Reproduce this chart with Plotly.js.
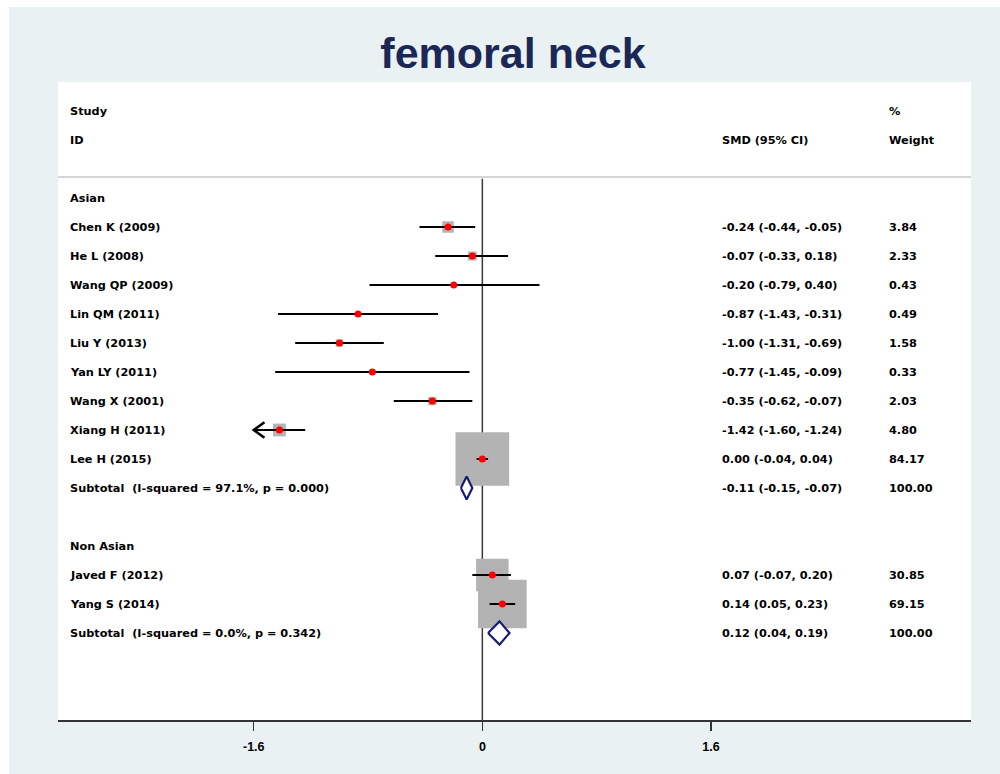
<!DOCTYPE html>
<html>
<head>
<meta charset="utf-8">
<script src="https://cdn.plot.ly/plotly-3.0.1.min.js"></script>
<style>
  html, body { margin: 0; padding: 0; background: #ffffff; }
  #chart { position: absolute; left: 9px; top: 7px; width: 991px; height: 767px; }
</style>
</head>
<body>
<div id="chart"></div>
<script>
// ---- data ----
var groups = ["Asian", "Non Asian"];
var studies = ["Chen K (2009)", "He L (2008)", "Wang QP (2009)", "Lin QM (2011)", "Liu Y (2013)",
               "Yan LY (2011)", "Wang X (2001)", "Xiang H (2011)", "Lee H (2015)",
               "Javed F (2012)", "Yang S (2014)"];
var studyGroup = ["Asian", "Asian", "Asian", "Asian", "Asian", "Asian", "Asian", "Asian", "Asian",
                  "Non Asian", "Non Asian"];
var smd    = [-0.24, -0.07, -0.20, -0.87, -1.00, -0.77, -0.35, -1.42, 0.00, 0.07, 0.14];
var ciLow  = [-0.44, -0.33, -0.79, -1.43, -1.31, -1.45, -0.62, -1.60, -0.04, -0.07, 0.05];
var ciHigh = [-0.05, 0.18, 0.40, -0.31, -0.69, -0.09, -0.07, -1.24, 0.04, 0.20, 0.23];
var weight = [3.84, 2.33, 0.43, 0.49, 1.58, 0.33, 2.03, 4.80, 84.17, 30.85, 69.15];

var subLabel  = ["Subtotal\u00a0\u00a0(I-squared = 97.1%, p = 0.000)",
                 "Subtotal\u00a0\u00a0(I-squared = 0.0%, p = 0.342)"];
var subSmd    = [-0.11, 0.12];
var subLow    = [-0.15, 0.04];
var subHigh   = [-0.07, 0.19];
var subWeight = [100.00, 100.00];

var tickVals  = [-1.6, 0, 1.6];
var tickText  = ["-1.6", "0", "1.6"];
var titleText = "femoral neck";
var clipLow = -1.6;

// ---- layout of rows ----
var xLabel = -2.90, xSmd = 1.66, xWeight = 2.83;
var fontFam = "DejaVu Sans, Verdana, sans-serif";
var annotations = [];
function txt(x, y, s) {
  annotations.push({x: x, y: y, xref: 'x', yref: 'y', text: '<b>' + s + '</b>', showarrow: false,
    xanchor: 'left', yanchor: 'middle', font: {family: fontFam, size: 11.3, color: '#000'}});
}
txt(xLabel, 0, "Study");
txt(xLabel, 1, "ID");
txt(xSmd, 1, "SMD (95% CI)");
txt(xWeight, 0, "%");
txt(xWeight, 1, "Weight");

var row = 3;
var sRows = [], gSubRows = [];
groups.forEach(function (g, gi) {
  txt(xLabel, row, g);
  row++;
  studies.forEach(function (s, i) {
    if (studyGroup[i] !== g) return;
    sRows[i] = row;
    txt(xLabel, row, s);
    txt(xSmd, row, smd[i].toFixed(2) + " (" + ciLow[i].toFixed(2) + ", " + ciHigh[i].toFixed(2) + ")");
    txt(xWeight, row, weight[i].toFixed(2));
    row++;
  });
  gSubRows[gi] = row;
  txt(xLabel, row, subLabel[gi]);
  txt(xSmd, row, subSmd[gi].toFixed(2) + " (" + subLow[gi].toFixed(2) + ", " + subHigh[gi].toFixed(2) + ")");
  txt(xWeight, row, subWeight[gi].toFixed(2));
  row += 2;
});

// ---- traces ----
var boxTrace = {
  type: 'scatter', mode: 'markers', x: smd, y: sRows, hoverinfo: 'skip',
  marker: {symbol: 'square', size: weight.map(function (w) { return 5.85 * Math.sqrt(w); }),
           color: '#b3b3b3', opacity: 1, line: {width: 0}}
};
var lx = [], ly = [];
studies.forEach(function (s, i) {
  lx.push(Math.max(ciLow[i], clipLow), ciHigh[i], null);
  ly.push(sRows[i], sRows[i], null);
});
var ciTrace = {type: 'scatter', mode: 'lines', x: lx, y: ly, hoverinfo: 'skip',
  line: {color: '#000', width: 2}};
var ax = [], ay = [];
studies.forEach(function (s, i) {
  if (ciLow[i] <= clipLow) {
    ax.push(clipLow + 0.075, clipLow, clipLow + 0.075, null);
    ay.push(sRows[i] - 0.27, sRows[i], sRows[i] + 0.27, null);
  }
});
var arrowTrace = {type: 'scatter', mode: 'lines', x: ax, y: ay, hoverinfo: 'skip',
  line: {color: '#000', width: 2.5}};
var dotTrace = {type: 'scatter', mode: 'markers', x: smd, y: sRows, hoverinfo: 'skip',
  marker: {symbol: 'circle', size: 7, color: '#ff0000', opacity: 1}};
var dx = [], dy = [];
groups.forEach(function (g, gi) {
  var r = gSubRows[gi];
  dx.push(subLow[gi], subSmd[gi], subHigh[gi], subSmd[gi], subLow[gi], null);
  dy.push(r, r - 0.4, r, r + 0.4, r, null);
});
var diamondTrace = {type: 'scatter', mode: 'lines', x: dx, y: dy, fill: 'toself',
  fillcolor: '#ffffff', hoverinfo: 'skip', line: {color: '#1a1a78', width: 2.2}};

var layout = {
  width: 991, height: 767,
  paper_bgcolor: '#e9f1f3', plot_bgcolor: '#ffffff',
  margin: {l: 49, r: 29, t: 75, b: 54},
  showlegend: false,
  title: {text: '<b>' + titleText + '</b>', x: 0.5086, xanchor: 'center', y: 0.94, yanchor: 'middle',
          font: {family: 'Liberation Sans, Arial, sans-serif', size: 43, color: '#1b2856'}},
  xaxis: {range: [-2.97, 3.42], showgrid: false, zeroline: false, showline: true,
          linecolor: '#333', linewidth: 2, ticks: 'outside', ticklen: 9, tickwidth: 1.5,
          tickcolor: '#333', tickmode: 'array', tickvals: tickVals, ticktext: tickText,
          ticklabelstandoff: 5,
          tickfont: {family: 'Liberation Sans, Arial, sans-serif', size: 12.5, color: '#000', weight: 'bold'},
          fixedrange: true},
  yaxis: {range: [21, -1], showgrid: false, zeroline: false, showline: false,
          showticklabels: false, ticks: '', fixedrange: true},
  shapes: [
    {type: 'line', xref: 'paper', yref: 'y', x0: 0, x1: 1, y0: 2.28, y1: 2.28,
     line: {color: '#d6d6d6', width: 2}},
    {type: 'line', xref: 'x', yref: 'y', x0: 0, x1: 0, y0: 2.34, y1: 21, layer: 'below',
     line: {color: '#3a3a3a', width: 1.5}}
  ],
  annotations: annotations
};

Plotly.newPlot('chart', [boxTrace, ciTrace, arrowTrace, dotTrace, diamondTrace], layout,
  {displayModeBar: false, staticPlot: true});
</script>
</body>
</html>
